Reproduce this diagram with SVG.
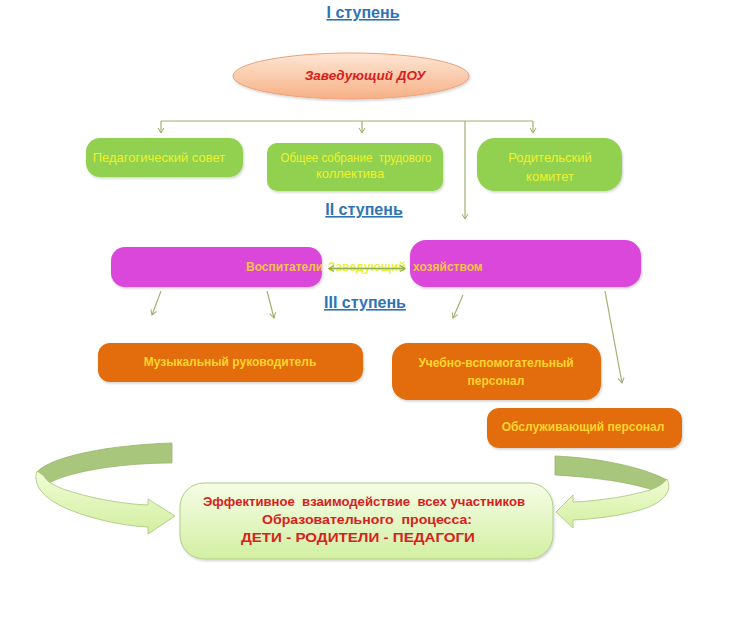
<svg xmlns="http://www.w3.org/2000/svg" width="751" height="640" viewBox="0 0 751 640">
<defs>
  <linearGradient id="gEll" x1="0" y1="0" x2="0" y2="1">
    <stop offset="0" stop-color="#fde7d6"/><stop offset="1" stop-color="#f7b085"/>
  </linearGradient>
  <linearGradient id="gBot" x1="0" y1="0" x2="0" y2="1">
    <stop offset="0" stop-color="#f6fde6"/><stop offset="1" stop-color="#d2efa2"/>
  </linearGradient>
  <linearGradient id="gLight" x1="0" y1="0" x2="0" y2="1">
    <stop offset="0" stop-color="#f0fdd6"/><stop offset="1" stop-color="#d3ee9f"/>
  </linearGradient>
  <filter id="sh" x="-10%" y="-10%" width="120%" height="130%">
    <feDropShadow dx="1" dy="1.5" stdDeviation="1.2" flood-color="#000" flood-opacity="0.18"/>
  </filter>
  <marker id="ah" markerWidth="8" markerHeight="8" refX="6" refY="4" orient="auto" markerUnits="userSpaceOnUse">
    <path d="M1,1 L6,4 L1,7" fill="none" stroke="#9fae6c" stroke-width="1"/>
  </marker>
  <marker id="ah2" markerWidth="8" markerHeight="8" refX="6" refY="4" orient="auto-start-reverse" markerUnits="userSpaceOnUse">
    <path d="M1,1 L6,4 L1,7" fill="none" stroke="#8fae55" stroke-width="1.2"/>
  </marker>
</defs>
<style>
  text{font-family:"Liberation Sans",Arial,sans-serif;white-space:pre}
  .lvl{font-weight:bold;font-size:16px;fill:#2e74b5;text-decoration:underline;text-anchor:middle}
  .green{fill:#92d050;filter:url(#sh)}
  .gt{font-size:13px;fill:#eef22c;text-anchor:middle}
  .mag{fill:#da46da;filter:url(#sh)}
  .mt{font-size:12px;font-weight:bold;fill:#f7c24a}
  .org{fill:#e36c0a;filter:url(#sh)}
  .ot{font-size:12px;font-weight:bold;fill:#ffd52e;text-anchor:middle}
  .rt{font-weight:bold;fill:#d9201c;text-anchor:middle}
  .con{fill:none;stroke:#a3b070;stroke-width:1.2}
  .dark{fill:#a9c77c;stroke:#98b46a;stroke-width:0.8}
  .light{fill:url(#gLight);stroke:#a6c47c;stroke-width:0.8}
</style>
<rect width="751" height="640" fill="#ffffff"/>

<g id="levels">
  <text class="lvl" x="363" y="18">I ступень</text>
  <text class="lvl" x="364" y="215">II ступень</text>
  <text class="lvl" x="365" y="308">III ступень</text>
</g>

<g id="connectors">
  <path class="con" d="M161,121 H533"/>
  <path class="con" d="M161,121 V133" marker-end="url(#ah)"/>
  <path class="con" d="M362,121 V133" marker-end="url(#ah)"/>
  <path class="con" d="M533,121 V133" marker-end="url(#ah)"/>
  <path class="con" d="M465,121 V219" marker-end="url(#ah)"/>
  <path class="con" d="M161,291 L152,315" marker-end="url(#ah)"/>
  <path class="con" d="M267,291 L274,318" marker-end="url(#ah)"/>
  <path class="con" d="M463,295 L453,318" marker-end="url(#ah)"/>
  <path class="con" d="M605,291 L622,383" marker-end="url(#ah)"/>
</g>

<g id="head">
  <ellipse cx="351" cy="76" rx="118" ry="23" fill="url(#gEll)" stroke="#e9a27a" stroke-width="1" filter="url(#sh)"/>
  <text class="rt" x="365" y="80" font-size="13.5" font-style="italic">Заведующий ДОУ</text>
</g>

<g id="ped-sovet">
  <rect class="green" x="86" y="138" width="157" height="39" rx="14"/>
  <text class="gt" x="159" y="162">Педагогический совет</text>
</g>
<g id="obshee-sobranie">
  <rect class="green" x="267" y="143" width="176" height="48" rx="10"/>
  <text class="gt" x="356" y="162" font-size="12.5" textLength="151" lengthAdjust="spacingAndGlyphs">Общее собрание  трудового</text>
  <text class="gt" x="350" y="178" font-size="12.5">коллектива</text>
</g>
<g id="rod-komitet">
  <rect class="green" x="477" y="138" width="145" height="53" rx="18"/>
  <text class="gt" x="550" y="162">Родительский</text>
  <text class="gt" x="550" y="181">комитет</text>
</g>

<g id="vospitateli">
  <rect class="mag" x="111" y="247" width="211" height="40" rx="14"/>
  <text class="mt" x="246" y="271">Воспитатели</text>
</g>
<g id="zav-hoz">
  <rect class="mag" x="410" y="240" width="231" height="47" rx="16"/>
  <text class="mt" x="328" y="271" style="fill:#e8f03c">Заведующий</text>
  <text class="mt" x="413" y="271">хозяйством</text>
</g>
<g id="link">
  <path d="M329,268.5 H405" fill="none" stroke="#8fae55" stroke-width="1.3" marker-start="url(#ah2)" marker-end="url(#ah2)"/>
</g>

<g id="muz-ruk">
  <rect class="org" x="98" y="343" width="265" height="39" rx="12"/>
  <text class="ot" x="230" y="366">Музыкальный руководитель</text>
</g>
<g id="uch-vsp">
  <rect class="org" x="392" y="343" width="209" height="57" rx="16"/>
  <text class="ot" x="496" y="367">Учебно-вспомогательный</text>
  <text class="ot" x="496" y="385">персонал</text>
</g>
<g id="obsl">
  <rect class="org" x="487" y="408" width="195" height="40" rx="12"/>
  <text class="ot" x="583" y="431">Обслуживающий персонал</text>
</g>

<g id="arrow-left">
  <path class="dark" d="M172,443 L172,463 C125,463 72,470 47,484 L37,472 C52,456 110,445 172,443 Z"/>
  <path class="light" d="M37,471 C32,486 45,500 70,510 C95,520 125,526 148,527 L148,534 L175,516 L148,499 L148,505 C120,504 86,497 63,489 C53,485 46,481 44,476 Z"/>
</g>
<g id="arrow-right">
  <path class="dark" d="M555,456 L555,475 C592,477 632,482 659,492 L667,480 C642,467 600,458 555,456 Z"/>
  <path class="light" d="M667,479 C673,491 664,503 640,510 C620,516 595,519 573,520 L573,528 L556,512 L573,495 L573,502 C600,501 630,496 650,490 C658,487 663,484 667,479 Z"/>
</g>

<g id="result">
  <rect x="180" y="483" width="373" height="76" rx="24" fill="url(#gBot)" stroke="#b2cd86" stroke-width="1" filter="url(#sh)"/>
  <text class="rt" x="364" y="506" font-size="13" textLength="322" lengthAdjust="spacingAndGlyphs">Эффективное  взаимодействие  всех участников</text>
  <text class="rt" x="367" y="524" font-size="13" textLength="210" lengthAdjust="spacingAndGlyphs">Образовательного  процесса:</text>
  <text class="rt" x="358" y="542" font-size="13.5" textLength="234" lengthAdjust="spacingAndGlyphs">ДЕТИ - РОДИТЕЛИ - ПЕДАГОГИ</text>
</g>
</svg>
